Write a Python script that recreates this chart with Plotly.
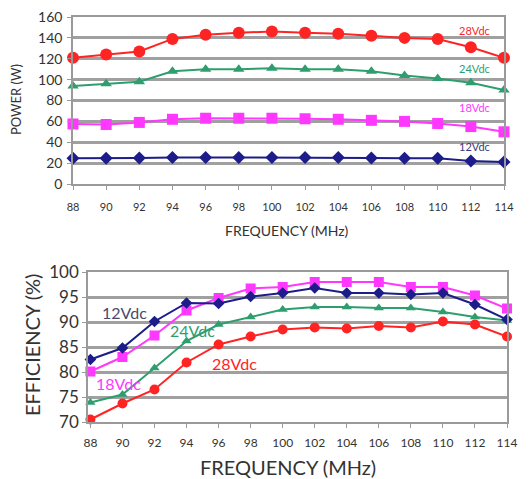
import plotly.graph_objects as go

freq = [88, 90, 92, 94, 96, 98, 100, 102, 104, 106, 108, 110, 112, 114]
series_names = ["28Vdc", "24Vdc", "18Vdc", "12Vdc"]

power_28 = [121, 124, 127, 139, 143, 145, 146, 145, 144, 142, 140, 139, 131, 121]
power_24 = [94, 96, 98, 108, 110, 110, 111, 110, 110, 108, 104, 101, 97, 90]
power_18 = [57.5, 57, 59, 62, 63, 63, 63, 62.5, 62, 61, 60, 58, 55, 50]
power_12 = [24.6, 24.6, 25, 25.5, 25.5, 25.5, 25.5, 25.5, 25.5, 25, 24.6, 24.6, 22, 21]

eff_12 = [82.5, 84.8, 90.1, 93.8, 93.7, 95.1, 95.8, 96.8, 95.8, 95.8, 95.5, 95.8, 93.5, 90.5]
eff_18 = [80.1, 83.0, 87.3, 92.3, 94.8, 96.7, 97.0, 98.0, 98.0, 98.0, 97.0, 97.0, 95.3, 92.7]
eff_24 = [73.9, 75.5, 80.8, 86.2, 89.5, 91.0, 92.5, 93.0, 93.0, 92.8, 92.8, 92.0, 91.0, 90.3]
eff_28 = [70.5, 73.7, 76.5, 81.9, 85.5, 87.1, 88.5, 88.9, 88.7, 89.2, 88.9, 90.1, 89.5, 87.1]

power_ticks = [0, 20, 40, 60, 80, 100, 120, 140, 160]
eff_ticks = [70, 75, 80, 85, 90, 95, 100]

RED = "#ff2424"
GREEN = "#2f9e6f"
MAG = "#ff38ff"
NAVY = "#1c1c8a"
FONT = "Lato"

W, H = 530, 479
OFF = 8  # default page body margin
fig = go.Figure()

def add(x, y, color, symbol, size, xa, ya, lw=2):
    fig.add_trace(go.Scatter(x=x, y=y, mode="lines+markers", xaxis=xa, yaxis=ya,
                             line=dict(color=color, width=lw),
                             marker=dict(color=color, symbol=symbol, size=size),
                             cliponaxis=False, showlegend=False))

# top: power
add(freq, power_28, RED, "circle", 12, "x", "y")
add(freq, power_24, GREEN, "triangle-up", 10, "x", "y")
add(freq, power_18, MAG, "square", 11, "x", "y")
add(freq, power_12, NAVY, "diamond", 10, "x", "y")
# bottom: efficiency
add(freq, eff_28, RED, "circle", 10, "x2", "y2")
add(freq, eff_24, GREEN, "triangle-up", 9, "x2", "y2")
add(freq, eff_18, MAG, "square", 10, "x2", "y2")
add(freq, eff_12, NAVY, "diamond", 9, "x2", "y2")

def px(p):
    return (p - OFF) / W

def py(p):
    return 1 - (p - OFF) / H

axis_common = dict(showline=True, linecolor="#9a9a9a", linewidth=1.5, mirror=True,
                   ticks="outside", tickcolor="#9a9a9a", ticklen=4,
                   zeroline=False, automargin=False, ticklabeloverflow="allow")

fig.update_layout(
    width=W, height=H, margin=dict(l=0, r=0, t=0, b=0),
    paper_bgcolor="white", plot_bgcolor="white",
    font=dict(family=FONT, color="#333333"),
    xaxis=dict(domain=[px(73), px(504)], range=[88, 114], tickvals=freq,
               showgrid=False, anchor="y", tickfont=dict(size=11),
               ticklabelstandoff=8, **axis_common),
    yaxis=dict(domain=[py(184), py(17)], range=[0, 160], tickvals=power_ticks,
               showgrid=True, gridcolor="#a0a0a0", gridwidth=2.5, anchor="x",
               tickfont=dict(size=14), ticklabelstandoff=2, **axis_common),
    xaxis2=dict(domain=[px(88), px(507)], range=[87.85, 114], tickvals=freq,
                showgrid=False, anchor="y2", tickfont=dict(size=12),
                ticklabelstandoff=5, **axis_common),
    yaxis2=dict(domain=[py(422), py(272)], range=[70, 100], tickvals=eff_ticks,
                showgrid=True, gridcolor="#a0a0a0", gridwidth=2.5, anchor="x2",
                tickfont=dict(size=17), ticklabelstandoff=0, **axis_common),
)

ann = []
def a(text, x, y, size, color="#333", angle=0, ref=("paper", "paper")):
    ann.append(dict(text=text, x=x, y=y, xref=ref[0], yref=ref[1], textangle=angle,
                    showarrow=False, xanchor="center", yanchor="middle",
                    font=dict(size=size, color=color)))

a("POWER (W)", px(16), py(100), 13, angle=-90)
a("FREQUENCY (MHz)", px(287), py(230), 14)
a("EFFICIENCY (%)", px(32), py(345), 20, angle=-90)
a("FREQUENCY (MHz)", px(288), py(467), 20)

top_lbl = [(147.5, RED), (111, GREEN), (73, MAG), (35.5, "#3a3a7a")]
for name, (yy, c) in zip(series_names, top_lbl):
    a(name, 112.2, yy, 11, color=c, ref=("x", "y"))

bot_lbl = {"12Vdc": (90.1, 92.0, "#4a4a6a"), "24Vdc": (94.4, 88.4, GREEN),
           "28Vdc": (97.0, 81.8, RED), "18Vdc": (89.75, 77.8, MAG)}
for name in series_names:
    xx, yy, c = bot_lbl[name]
    a(name, xx, yy, 16, color=c, ref=("x2", "y2"))

fig.update_layout(annotations=ann)
fig.write_html("out.html")
